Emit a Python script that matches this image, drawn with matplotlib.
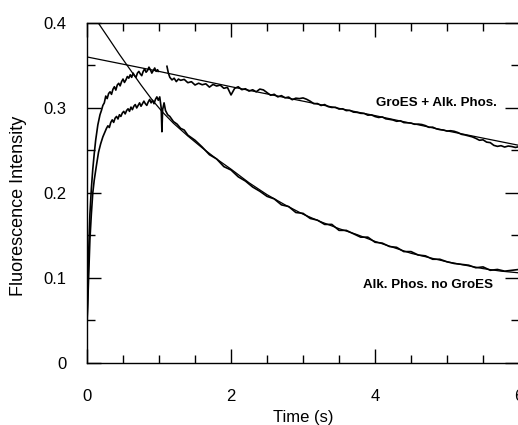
import numpy as np
import matplotlib
matplotlib.use("Agg")
import matplotlib.pyplot as plt
from matplotlib.ticker import MultipleLocator

# GroES + Alk. Phos. trace (nan = gap in the record)
groes_t = [0.0, 0.01, 0.02, 0.03, 0.04, 0.06, 0.08, 0.10, 0.12, 0.15, 0.18, 0.20, 0.22,
           0.24, 0.26, 0.28, 0.30, 0.32, 0.34, 0.36, 0.38, 0.40, 0.42, 0.44, 0.46, 0.48,
           0.50, 0.52, 0.54, 0.56, 0.58, 0.60, 0.62, 0.64, 0.66, 0.68, 0.70, 0.72, 0.74,
           0.76, 0.78, 0.80, 0.82, 0.84, 0.86, 0.88, 0.90, 0.92, 0.94, 0.96, 0.98, 0.99,
           np.nan, 1.11, 1.13, 1.15, 1.18, 1.21, 1.24, 1.27,
           1.30, 1.35, 1.40, 1.45, 1.50, 1.55, 1.60, 1.65, 1.70, 1.75, 1.80, 1.85, 1.90,
           1.95, 2.00, 2.05, 2.10, 2.15, 2.20, 2.25, 2.30, 2.35, 2.40, 2.45, 2.50, 2.55,
           2.60, 2.65, 2.70, 2.75, 2.80, 2.85, 2.90, 2.95, 3.00, 3.05, 3.10, 3.15, 3.20,
           3.25, 3.30, 3.35, 3.40, 3.45, 3.50, 3.55, 3.60, 3.65, 3.70, 3.75, 3.80, 3.85,
           3.90, 3.95, 4.00, 4.05, 4.10, 4.15, 4.20, 4.25, 4.30, 4.35, 4.40, 4.45, 4.50,
           4.55, 4.60, 4.65, 4.70, 4.75, 4.80, 4.85, 4.90, 4.95, 5.00, 5.05, 5.10, 5.15,
           5.20, 5.25, 5.30, 5.35, 5.40, 5.45, 5.50, 5.55, 5.60, 5.65, 5.70, 5.75, 5.80,
           5.85, 5.90, 5.95, 6.00]
groes_v = [0.040, 0.080, 0.120, 0.150, 0.175, 0.205, 0.228, 0.246, 0.262, 0.280, 0.292,
           0.297, 0.303, 0.306, 0.314, 0.311, 0.317, 0.319, 0.316, 0.322, 0.325, 0.321,
           0.327, 0.329, 0.326, 0.331, 0.334, 0.330, 0.333, 0.337, 0.335, 0.339, 0.336,
           0.341, 0.338, 0.336, 0.341, 0.343, 0.340, 0.338, 0.343, 0.346, 0.342, 0.344,
           0.348, 0.345, 0.341, 0.344, 0.347, 0.343, 0.345, 0.343,
           np.nan, 0.349, 0.341, 0.336, 0.333, 0.335, 0.331, 0.334,
           0.3325, 0.3336, 0.3297, 0.3309, 0.3270, 0.3291, 0.3273, 0.3284, 0.3245, 0.3277,
           0.3258, 0.3269, 0.3231, 0.3242, 0.3153, 0.3230, 0.3249, 0.3215, 0.3226, 0.3198,
           0.3214, 0.3190, 0.3222, 0.3212, 0.3180, 0.3149, 0.3161, 0.3130, 0.3145, 0.3119,
           0.3128, 0.3097, 0.3115, 0.3110, 0.3118, 0.3102, 0.3079, 0.3050, 0.3052, 0.3029,
           0.3040, 0.3015, 0.3006, 0.3008, 0.2987, 0.2990, 0.2969, 0.2972, 0.2951, 0.2948,
           0.2937, 0.2935, 0.2915, 0.2918, 0.2899, 0.2888, 0.2894, 0.2872, 0.2866, 0.2858,
           0.2843, 0.2849, 0.2828, 0.2825, 0.2822, 0.2808, 0.2810, 0.2805, 0.2792, 0.2772,
           0.2774, 0.2755, 0.2745, 0.2740, 0.2728, 0.2732, 0.2725, 0.2711, 0.2690, 0.2682,
           0.2671, 0.2660, 0.2642, 0.2620, 0.2625, 0.2598, 0.2592, 0.2560, 0.2548, 0.2556,
           0.2540, 0.2552, 0.2546, 0.2535, 0.2545]

# Alk. Phos. no GroES trace
alk_t = [0.0, 0.01, 0.02, 0.03, 0.04, 0.06, 0.08, 0.10, 0.13, 0.16, 0.19, 0.22, 0.25,
         0.27, 0.29, 0.31, 0.33, 0.35, 0.37, 0.39, 0.41, 0.43, 0.45, 0.47, 0.49, 0.51,
         0.53, 0.55, 0.57, 0.59, 0.61, 0.63, 0.65, 0.67, 0.69, 0.71, 0.73, 0.75, 0.77,
         0.79, 0.81, 0.83, 0.85, 0.87, 0.89, 0.91, 0.93, 0.95, 0.97, 0.99, 1.01, 1.03,
         1.04, 1.05, 1.07, 1.09, 1.12, 1.15, 1.20, 1.25, 1.30,
         1.35, 1.40, 1.50, 1.60, 1.70, 1.80, 1.90, 2.00, 2.10, 2.20, 2.30, 2.40, 2.50,
         2.60, 2.70, 2.80, 2.90, 3.00, 3.10, 3.20, 3.30, 3.40, 3.50, 3.60, 3.70, 3.80,
         3.90, 4.00, 4.10, 4.20, 4.30, 4.40, 4.50, 4.60, 4.70, 4.80, 4.90, 5.00, 5.10,
         5.20, 5.30, 5.40, 5.50, 5.60, 5.70, 5.80, 5.90, 6.00]
alk_v = [0.050, 0.070, 0.095, 0.120, 0.145, 0.175, 0.200, 0.215, 0.232, 0.248, 0.258,
         0.266, 0.272, 0.276, 0.279, 0.277, 0.283, 0.286, 0.283, 0.288, 0.290, 0.287,
         0.292, 0.290, 0.294, 0.296, 0.293, 0.297, 0.299, 0.296, 0.301, 0.298, 0.302,
         0.304, 0.300, 0.303, 0.306, 0.302, 0.305, 0.308, 0.305, 0.303, 0.307, 0.310,
         0.306, 0.309, 0.305, 0.310, 0.313, 0.309, 0.313, 0.300,
         0.272, 0.298, 0.306, 0.297, 0.292, 0.290, 0.284, 0.281, 0.276,
         0.274, 0.268, 0.262, 0.254, 0.245, 0.240, 0.231, 0.227, 0.219, 0.214, 0.207,
         0.202, 0.196, 0.193, 0.186, 0.184, 0.177, 0.176, 0.170, 0.168, 0.163, 0.163,
         0.156, 0.156, 0.152, 0.148, 0.148, 0.142, 0.141, 0.137, 0.136, 0.131, 0.131,
         0.127, 0.126, 0.122, 0.122, 0.119, 0.117, 0.116, 0.115, 0.112, 0.113, 0.109,
         0.110, 0.108, 0.109, 0.110]

# fitted curves
groes_fit_t = [0.0, 1.0, 2.0, 3.0, 4.0, 5.0, 6.0]
groes_fit_v = [0.360, 0.343, 0.325, 0.308, 0.291, 0.273, 0.256]

alk_fit_t = [0.10, 0.30, 0.45, 0.60, 0.75, 0.90, 1.05, 1.20, 1.40, 1.60, 1.80, 2.00,
             2.25, 2.50, 2.75, 3.00, 3.25, 3.50, 3.75, 4.00, 4.25, 4.50, 4.75, 5.00,
             5.25, 5.50, 5.75, 6.00]
alk_fit_v = [0.407, 0.382, 0.363, 0.345, 0.327, 0.310, 0.295, 0.282, 0.267, 0.253,
             0.240, 0.228, 0.212, 0.198, 0.186, 0.175, 0.166, 0.158, 0.151, 0.143,
             0.136, 0.129, 0.124, 0.119, 0.115, 0.111, 0.108, 0.106]

plt.rcParams['font.family'] = ['Liberation Sans', 'DejaVu Sans']

fig = plt.figure(figsize=(5.18, 4.25), dpi=100)
ax = fig.add_axes([0.168, 0.146, 0.834, 0.80])

ax.plot(groes_t, groes_v, color='black', lw=1.2)
ax.plot(alk_t, alk_v, color='black', lw=1.2)
ax.plot(groes_fit_t, groes_fit_v, color='black', lw=0.9)
ax.plot(alk_fit_t, alk_fit_v, color='black', lw=0.9)

ax.set_xlim(0, 6)
ax.set_ylim(0, 0.4)
ax.xaxis.set_minor_locator(MultipleLocator(0.5))
ax.yaxis.set_minor_locator(MultipleLocator(0.05))
ax.set_xticks([0, 2, 4, 6])
ax.set_xticklabels(['0', '2', '4', '6'])
ax.set_yticks([0, 0.1, 0.2, 0.3, 0.4])
ax.set_yticklabels(['0', '0.1', '0.2', '0.3', '0.4'])

ax.tick_params(which='both', direction='in', top=True, right=True, width=1.0,
               labelsize=12)
ax.tick_params(which='major', length=10)
ax.tick_params(which='minor', length=6)
ax.tick_params(axis='y', which='major', pad=15)
ax.tick_params(axis='x', which='major', pad=19)
for s in ax.spines.values():
    s.set_linewidth(1.0)

ax.set_xlabel('Time (s)', fontsize=12)
ax.set_ylabel('Fluorescence Intensity', fontsize=13)
ax.xaxis.set_label_coords(0.5, -0.137)
ax.yaxis.set_label_coords(-0.139, 0.462)

ax.text(4.01, 0.306, 'GroES + Alk. Phos.', fontsize=9.6, fontweight='bold',
        ha='left', va='center')
ax.text(3.83, 0.092, 'Alk. Phos. no GroES', fontsize=9.6, fontweight='bold',
        ha='left', va='center')

fig.savefig('out.png', dpi=100)
